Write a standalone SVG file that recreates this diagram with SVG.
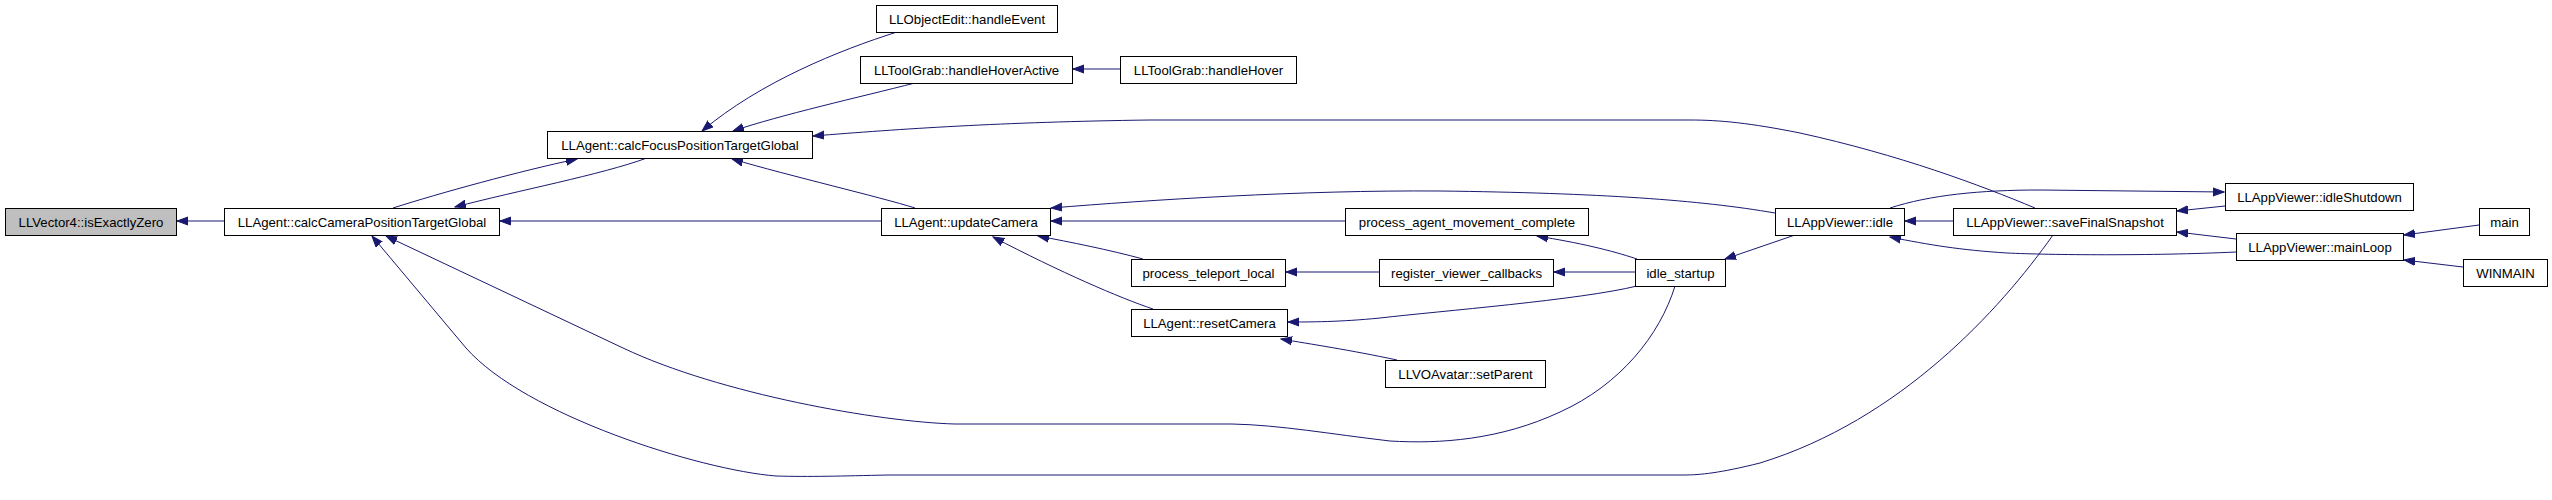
<svg xmlns="http://www.w3.org/2000/svg" width="2552" height="500" viewBox="0 0 2552 500">
<style>
.n rect{fill:#ffffff;stroke:#000000;stroke-width:1}
.n.root rect{fill:#bfbfbf}
.n text{font-family:"Liberation Sans",Arial,sans-serif;font-size:13.2px;fill:#000000;text-anchor:middle}
.e path{fill:none;stroke:#191970;stroke-width:1;marker-end:url(#ah)}
</style>
<defs>
<marker id="ah" markerUnits="userSpaceOnUse" markerWidth="12" markerHeight="10" refX="11" refY="4" orient="auto" viewBox="0 0 12 8">
<path d="M0,0 L11,4 L0,8 z" fill="#191970" stroke="#191970" stroke-width="1"/>
</marker>
</defs>
<rect width="2552" height="500" fill="#ffffff"/>
<g id="edges" class="e">
<path d="M224,221 L177,221"/>
<path d="M393,208 C440,193 520,171 577,159"/>
<path d="M647,158 C600,175 520,190 455,207"/>
<path d="M881,221 L500,221"/>
<path d="M897,32 C840,50 760,82 702,131"/>
<path d="M915,83 C860,97 780,115 733,131"/>
<path d="M2035,208 C1980,185 1900,155 1800,133 C1750,123 1720,120 1690,120 L1150,120 C1000,122 900,129 813,136"/>
<path d="M915,208 C880,197 790,176 732,159"/>
<path d="M1120,69 L1073,69"/>
<path d="M1345,221 L1051,221"/>
<path d="M1775,213 C1700,200 1600,193 1440,191 C1300,190 1150,200 1051,208"/>
<path d="M1143,259 C1110,250 1070,242 1038,236"/>
<path d="M1153,309 C1120,298 1060,272 993,237"/>
<path d="M1379,272 L1286,272"/>
<path d="M1635,272 L1554,272"/>
<path d="M1637,259 C1610,250 1580,243 1537,236"/>
<path d="M1637,286 C1580,300 1440,311 1380,318 C1340,322 1310,322 1288,322"/>
<path d="M1397,360 C1350,350 1310,344 1281,339"/>
<path d="M1675,286 C1660,335 1620,385 1560,412 C1500,440 1440,444 1390,441 C1330,434 1280,425 1232,424 L955,424 C880,422 720,394 623,348 L386,236"/>
<path d="M2053,235 C2000,310 1900,420 1760,463 C1720,473 1700,475 1684,475 L889,475 C840,476 810,477 776,476 C700,470 525,415 466,348 L372,236"/>
<path d="M1795,235 L1725,259"/>
<path d="M1953,221 L1905,221"/>
<path d="M2236,252 C2150,256 2050,255 2007,253 C1960,250 1930,245 1890,237"/>
<path d="M1890,208 C1930,195 1980,190 2040,190 L2224,192"/>
<path d="M2225,206 L2177,211"/>
<path d="M2236,239 L2177,232"/>
<path d="M2479,225 L2404,235"/>
<path d="M2463,267 L2404,260"/>
</g>
<g id="n_isExactlyZero" class="n root"><rect x="5.5" y="208.5" width="171" height="27"/><text x="91" y="226.5">LLVector4::isExactlyZero</text></g>
<g id="n_calcCamera" class="n"><rect x="224.5" y="208.5" width="275" height="27"/><text x="362" y="226.5">LLAgent::calcCameraPositionTargetGlobal</text></g>
<g id="n_calcFocus" class="n"><rect x="547.5" y="131.5" width="265" height="27"/><text x="680" y="149.5">LLAgent::calcFocusPositionTargetGlobal</text></g>
<g id="n_handleEvent" class="n"><rect x="876.5" y="5.5" width="181" height="27"/><text x="967" y="23.5">LLObjectEdit::handleEvent</text></g>
<g id="n_handleHoverActive" class="n"><rect x="860.5" y="56.5" width="212" height="27"/><text x="966.5" y="74.5">LLToolGrab::handleHoverActive</text></g>
<g id="n_handleHover" class="n"><rect x="1120.5" y="56.5" width="176" height="27"/><text x="1208.5" y="74.5">LLToolGrab::handleHover</text></g>
<g id="n_updateCamera" class="n"><rect x="881.5" y="208.5" width="169" height="27"/><text x="966" y="226.5">LLAgent::updateCamera</text></g>
<g id="n_processAgent" class="n"><rect x="1345.5" y="208.5" width="243" height="27"/><text x="1467" y="226.5">process_agent_movement_complete</text></g>
<g id="n_processTeleport" class="n"><rect x="1131.5" y="259.5" width="154" height="27"/><text x="1208.5" y="277.5">process_teleport_local</text></g>
<g id="n_register" class="n"><rect x="1379.5" y="259.5" width="174" height="27"/><text x="1466.5" y="277.5">register_viewer_callbacks</text></g>
<g id="n_resetCamera" class="n"><rect x="1131.5" y="309.5" width="156" height="27"/><text x="1209.5" y="327.5">LLAgent::resetCamera</text></g>
<g id="n_setParent" class="n"><rect x="1385.5" y="360.5" width="160" height="27"/><text x="1465.5" y="378.5">LLVOAvatar::setParent</text></g>
<g id="n_idleStartup" class="n"><rect x="1635.5" y="259.5" width="90" height="27"/><text x="1680.5" y="277.5">idle_startup</text></g>
<g id="n_idle" class="n"><rect x="1775.5" y="208.5" width="129" height="27"/><text x="1840" y="226.5">LLAppViewer::idle</text></g>
<g id="n_saveFinalSnapshot" class="n"><rect x="1953.5" y="208.5" width="223" height="27"/><text x="2065" y="226.5">LLAppViewer::saveFinalSnapshot</text></g>
<g id="n_idleShutdown" class="n"><rect x="2225.5" y="183.5" width="188" height="27"/><text x="2319.5" y="201.5">LLAppViewer::idleShutdown</text></g>
<g id="n_mainLoop" class="n"><rect x="2236.5" y="233.5" width="167" height="27"/><text x="2320" y="251.5">LLAppViewer::mainLoop</text></g>
<g id="n_main" class="n"><rect x="2479.5" y="208.5" width="50" height="27"/><text x="2504.5" y="226.5">main</text></g>
<g id="n_WINMAIN" class="n"><rect x="2463.5" y="259.5" width="84" height="27"/><text x="2505.5" y="277.5">WINMAIN</text></g>
</svg>
